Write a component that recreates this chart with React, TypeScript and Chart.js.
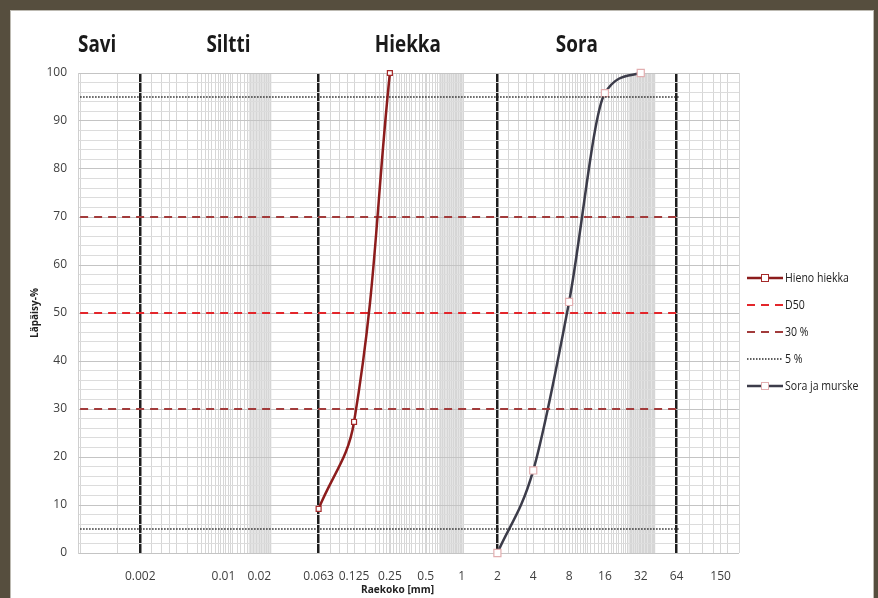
import React, { useEffect, useRef } from "react";
import { Chart, registerables } from "chart.js";

Chart.register(...registerables);

// Grain size distribution (grain size in mm, passing %)
const hienoSize = [0.063, 0.125, 0.25];
const hienoPass = [9.2, 27.3, 100];
const soraSize = [2, 4, 8, 16, 32];
const soraPass = [0, 17.2, 52.3, 95.8, 100];

// Horizontal reference levels (passing %)
const d50Levels = [50];
const levels30 = [30, 70];
const levels5 = [5, 95];
// Grain size range covered by the reference level lines
const levelSpan = [0.000625, 68];

// Grain size axis
const xMin = 0.000625;
const xMax = 214;
const tickValues = [0.002, 0.01, 0.02, 0.063, 0.125, 0.25, 0.5, 1, 2, 4, 8, 16, 32, 64, 150];
const tickLabels = ["0.002", "0.01", "0.02", "0.063", "0.125", "0.25", "0.5", "1", "2", "4", "8", "16", "32", "64", "150"];

// Soil fractions and their limits
const fractionNames = ["Savi", "Siltti", "Hiekka", "Sora"];
const fractionCentres = [0.00087, 0.011, 0.354, 9.3];
const fractionLimits = [0.002, 0.063, 2, 64];

// Shaded coarse ranges within silt, sand and gravel
const shadeFrom = [0.0163, 0.646, 25.2];
const shadeTo = [0.0253, 1.047, 42.4];
// Extra grid lines outside the fractions
const outerGrid = [0.00128, 82, 106, 130, 170];

const FONT = '"Open Sans", sans-serif';

const same = (a: number, b: number) => Math.abs(a / b - 1) < 1e-6;
const isLimit = (v: number) => fractionLimits.some((l) => same(l, v));

function buildGridValues(): number[] {
  const vals: number[] = [xMin, xMax, ...outerGrid, ...fractionLimits, ...tickValues];
  for (let s = 0; s < 3; s++) {
    const a = fractionLimits[s];
    for (const m of [1.25, 1.5, 1.75, 2, 2.5]) vals.push(a * m);
    const end = shadeTo[s] / a;
    let m = 3;
    while (m <= end + 1e-9) {
      vals.push(a * m);
      m += m < 6 ? 0.25 : 0.5;
    }
  }
  vals.sort((p, q) => p - q);
  const out: number[] = [];
  for (const v of vals) {
    if (!out.length || !same(out[out.length - 1], v)) out.push(v);
  }
  return out;
}

const gridValues = buildGridValues();

function levelData(levels: number[]) {
  const pts: { x: number; y: number | null }[] = [];
  levels.forEach((lv, i) => {
    if (i > 0) pts.push({ x: levelSpan[1], y: null });
    pts.push({ x: levelSpan[0], y: lv }, { x: levelSpan[1], y: lv });
  });
  return pts;
}

// Draws text squeezed horizontally, for a condensed look
function condensedText(ctx: CanvasRenderingContext2D, text: string, x: number, y: number, sx: number) {
  ctx.save();
  ctx.translate(x, y);
  ctx.scale(sx, 1);
  ctx.fillText(text, 0, 0);
  ctx.restore();
}

const shadePlugin = {
  id: "fractionShade",
  beforeDraw(chart: any) {
    const { ctx, chartArea, scales } = chart;
    const x = scales.x;
    ctx.save();
    ctx.fillStyle = "#e4e4e4";
    for (let i = 0; i < shadeFrom.length; i++) {
      const x0 = x.getPixelForValue(shadeFrom[i]);
      const x1 = x.getPixelForValue(shadeTo[i]);
      ctx.fillRect(x0, chartArea.top, x1 - x0, chartArea.bottom - chartArea.top);
    }
    ctx.restore();
  },
};

const textPlugin = {
  id: "fractionText",
  afterDraw(chart: any) {
    const { ctx, chartArea, scales } = chart;
    const x = scales.x;
    ctx.save();
    // Fraction names above the plot
    ctx.fillStyle = "#1a1a1a";
    ctx.font = `bold 23px ${FONT}`;
    ctx.textAlign = "center";
    ctx.textBaseline = "middle";
    fractionNames.forEach((name, i) => {
      condensedText(ctx, name, x.getPixelForValue(fractionCentres[i]), chartArea.top - 28, 0.82);
    });

    // Axis title below the grain size labels
    ctx.font = `bold 11px ${FONT}`;
    ctx.fillStyle = "#222";
    condensedText(ctx, "Raekoko [mm]", (chartArea.left + chartArea.right) / 2 - 11, chartArea.bottom + 37, 0.92);

    // Legend
    const lx0 = chartArea.right + 8;
    const lx1 = lx0 + 36;
    let ly = chartArea.top + 205;
    ctx.textAlign = "left";
    ctx.font = `12px ${FONT}`;
    chart.data.datasets.forEach((ds: any) => {
      ctx.save();
      ctx.strokeStyle = ds.borderColor;
      ctx.lineWidth = ds.borderWidth;
      ctx.setLineDash(ds.borderDash || []);
      ctx.beginPath();
      ctx.moveTo(lx0, ly);
      ctx.lineTo(lx1, ly);
      ctx.stroke();
      if (ds.pointRadius > 0) {
        const r = 4;
        const cx = (lx0 + lx1) / 2;
        ctx.setLineDash([]);
        ctx.fillStyle = "#fff";
        ctx.lineWidth = 1;
        ctx.strokeStyle = ds.pointBorderColor;
        ctx.fillRect(cx - r, ly - r, 2 * r, 2 * r);
        ctx.strokeRect(cx - r + 0.5, ly - r + 0.5, 2 * r - 1, 2 * r - 1);
      }
      ctx.restore();
      ctx.fillStyle = "#222";
      condensedText(ctx, ds.label, lx1 + 2, ly + 1, 0.88);
      ly += 27;
    });
    ctx.restore();
  },
};

export default function App() {
  const ref = useRef<HTMLCanvasElement | null>(null);

  useEffect(() => {
    if (!ref.current) return;
    const chart = new Chart(ref.current, {
      type: "line",
      data: {
        datasets: [
          {
            label: "Hieno hiekka",
            data: hienoSize.map((s, i) => ({ x: s, y: hienoPass[i] })),
            borderColor: "#8c1c1c",
            borderWidth: 2.5,
            tension: 0.4,
            clip: 10,
            pointStyle: "rect",
            pointRadius: 3.5,
            pointBackgroundColor: "#ffffff",
            pointBorderColor: "#a52a2a",
            pointBorderWidth: 1.2,
          },
          {
            label: "D50",
            data: levelData(d50Levels),
            borderColor: "#e3262b",
            borderWidth: 2,
            borderDash: [8, 6],
            pointRadius: 0,
            spanGaps: false,
          },
          {
            label: "30 %",
            data: levelData(levels30),
            borderColor: "#a23b3b",
            borderWidth: 2,
            borderDash: [8, 6],
            pointRadius: 0,
            spanGaps: false,
          },
          {
            label: "5 %",
            data: levelData(levels5),
            borderColor: "#2a2a2a",
            borderWidth: 1.5,
            borderDash: [1.5, 1.5],
            pointRadius: 0,
            spanGaps: false,
          },
          {
            label: "Sora ja murske",
            data: soraSize.map((s, i) => ({ x: s, y: soraPass[i] })),
            borderColor: "#3c3c4a",
            borderWidth: 2.5,
            cubicInterpolationMode: "monotone",
            clip: 10,
            pointStyle: "rect",
            pointRadius: 5,
            pointBackgroundColor: "#ffffff",
            pointBorderColor: "#e2aeb0",
            pointBorderWidth: 1.2,
          },
        ] as any,
      },
      options: {
        animation: false,
        responsive: false,
        maintainAspectRatio: false,
        devicePixelRatio: 1,
        layout: { padding: { top: 62, right: 134, bottom: 0, left: 0 } },
        plugins: { legend: { display: false }, tooltip: { enabled: false } },
        scales: {
          x: {
            type: "logarithmic",
            min: xMin,
            max: xMax,
            afterBuildTicks: (s: any) => {
              s.ticks = gridValues.map((v) => ({ value: v }));
            },
            afterFit: (s: any) => {
              s.height = 45;
            },
            ticks: {
              autoSkip: false,
              maxRotation: 0,
              minRotation: 0,
              padding: 16,
              color: "#404040",
              font: { family: FONT, size: 12 },
              callback: (v: any) => {
                const i = tickValues.findIndex((t) => same(t, Number(v)));
                return i >= 0 ? tickLabels[i] : "";
              },
            },
            grid: {
              drawTicks: false,
              color: (c: any) => (c.tick && isLimit(c.tick.value) ? "#1e1e1e" : "#d6d6d6"),
              lineWidth: (c: any) => (c.tick && isLimit(c.tick.value) ? 2.5 : 1),
            },
            border: { display: false },
          },
          y: {
            min: 0,
            max: 100,
            afterFit: (s: any) => {
              s.width = 67;
            },
            ticks: {
              stepSize: 2,
              autoSkip: false,
              padding: 11,
              color: "#404040",
              font: { family: FONT, size: 12 },
              callback: (v: any) => (Number(v) % 10 === 0 ? String(v) : ""),
            },
            grid: {
              drawTicks: false,
              color: (c: any) => (c.tick && c.tick.value % 10 === 0 ? "#c4c4c4" : "#dcdcdc"),
              lineWidth: 1,
            },
            border: { display: true, color: "#cfcfcf" },
            title: {
              display: true,
              text: "Läpäisy-%",
              color: "#222",
              font: { family: FONT, size: 10, weight: "bold" },
              padding: { top: 18, bottom: 0 },
            },
          },
        },
      },
      plugins: [shadePlugin, textPlugin],
    });
    return () => chart.destroy();
  }, []);

  return (
    <div
      style={{
        position: "fixed",
        left: 0,
        top: 0,
        width: 878,
        height: 598,
        background: "#564e3e",
        overflow: "hidden",
      }}
    >
      <div
        style={{
          position: "absolute",
          left: 11,
          top: 11,
          width: 862,
          height: 587,
          background: "#ffffff",
          boxShadow: "0 0 0 1px #bdbab2",
        }}
      >
        <canvas ref={ref} width={862} height={587} style={{ display: "block" }} />
      </div>
    </div>
  );
}
